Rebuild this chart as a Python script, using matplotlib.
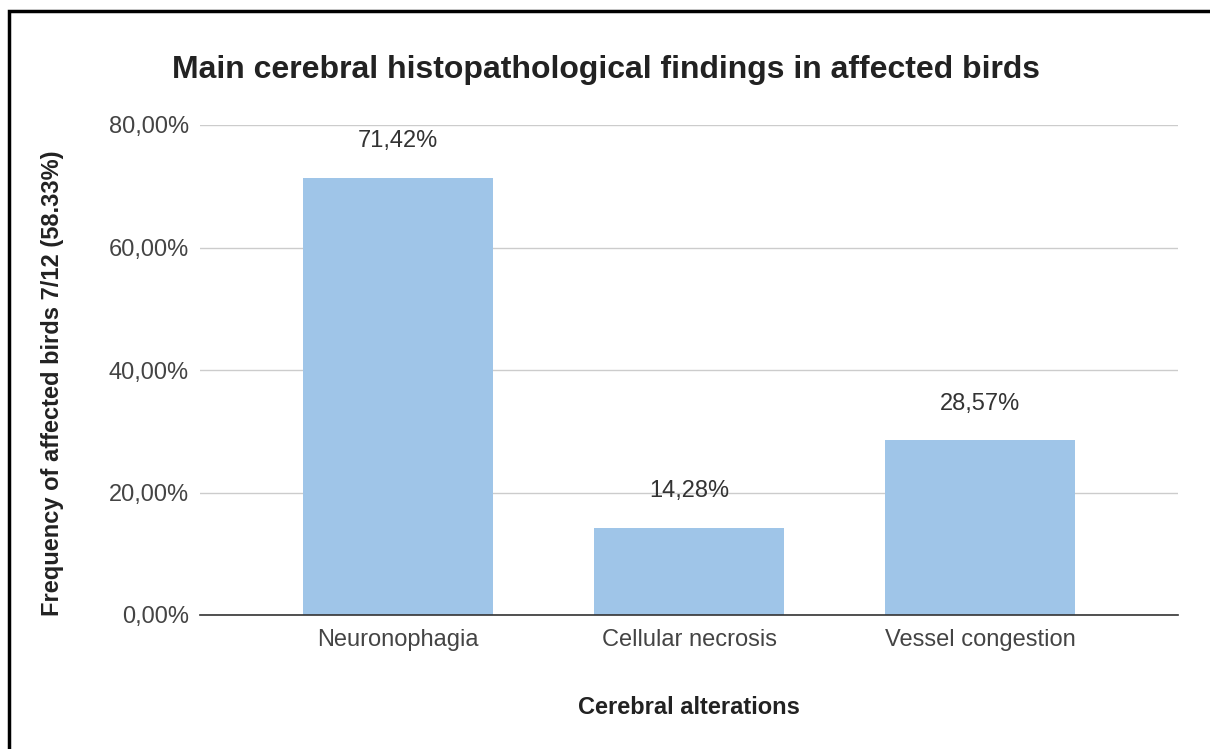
import matplotlib
matplotlib.use("Agg")
import matplotlib.pyplot as plt
from matplotlib.patches import Rectangle
from matplotlib.ticker import FuncFormatter

plt.rcParams['font.family'] = ['Liberation Sans', 'DejaVu Sans']

categories = ["Neuronophagia", "Cellular necrosis", "Vessel congestion"]
values = [71.42, 14.28, 28.57]
yticks = [0, 20, 40, 60, 80]

W, H = 1210, 749
fig = plt.figure(figsize=(W / 100, H / 100), dpi=100)
fig.patch.set_facecolor("white")

# axes placed in pixel terms
left, right, top, bottom = 200, 1178, 125, 615
ax = fig.add_axes([left / W, 1 - bottom / H, (right - left) / W, (bottom - top) / H])

x = list(range(len(categories)))
ax.bar(x, values, width=0.655, color="#9fc5e8", zorder=3)

for xi, v in zip(x, values):
    ax.annotate(f"{v:.2f}%".replace(".", ","), (xi, v), xytext=(0, 26),
                textcoords="offset points", ha="center", va="center",
                fontsize=17, color="#333333")

ax.set_xlim(-0.68, 2.68)
ax.set_ylim(0, 80)
ax.set_yticks(yticks)
ax.yaxis.set_major_formatter(FuncFormatter(lambda v, p: f"{v:.2f}%".replace(".", ",")))
ax.set_xticks(x)
ax.set_xticklabels(categories)
ax.tick_params(axis="both", length=0, labelsize=17, labelcolor="#444444")
ax.tick_params(axis="y", pad=8)
ax.tick_params(axis="x", pad=10)

ax.grid(axis="y", color="#cccccc", linewidth=1, zorder=0)
ax.set_axisbelow(True)
for s in ["top", "right", "left"]:
    ax.spines[s].set_visible(False)
ax.spines["bottom"].set_color("#333333")
ax.spines["bottom"].set_linewidth(1.2)
ax.spines["bottom"].set_zorder(4)

fig.text(606 / W, 1 - 70 / H, "Main cerebral histopathological findings in affected birds",
         ha="center", va="center", fontsize=23, fontweight="bold", color="#222222")
fig.text(689 / W, 1 - 707 / H, "Cerebral alterations", ha="center", va="center",
         fontsize=17, fontweight="bold", color="#222222")
fig.text(53 / W, 1 - 383 / H, "Frequency of affected birds 7/12 (58.33%)", ha="center",
         va="center", rotation=90, fontsize=17, fontweight="bold", color="#222222")

# outer frame
fig.patches.append(Rectangle((8.5 / W, -0.1), 1.2, 1.1 - 11.5 / H, transform=fig.transFigure,
                             fill=False, edgecolor="black", linewidth=2.5))

fig.savefig("out.png", dpi=100, facecolor="white")
